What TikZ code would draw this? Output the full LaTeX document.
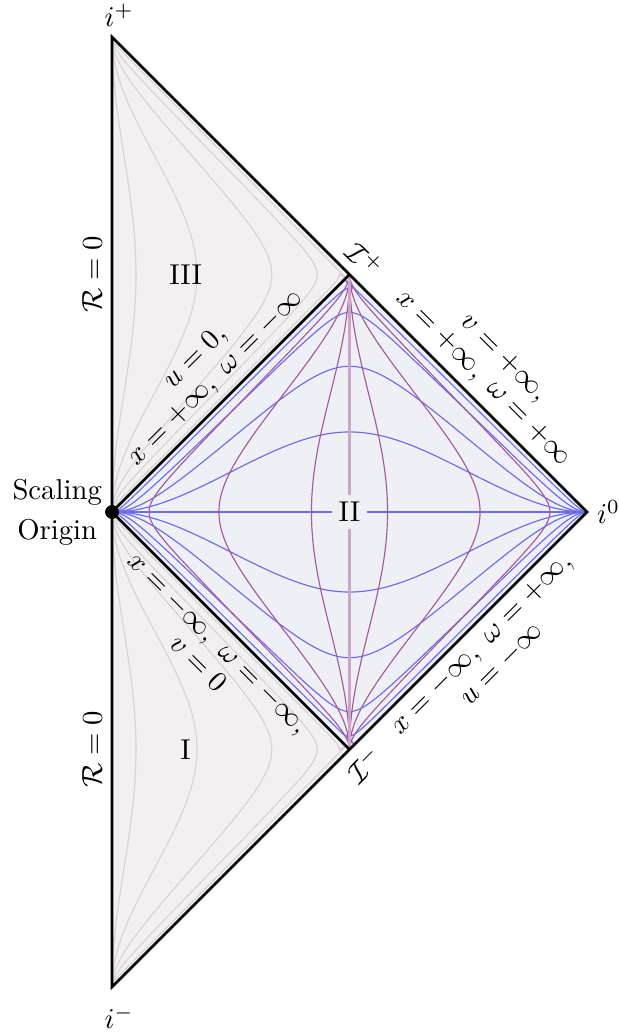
\documentclass[tikz,border=0pt]{standalone}
\usepackage{amsmath}

\definecolor{outerfill}{HTML}{F4F0F2}
\definecolor{innerfill}{HTML}{EFF0F6}
\definecolor{rgrey}{HTML}{D4D4D4}
\definecolor{tblue}{HTML}{6B6BEE}
\definecolor{xpurple}{HTML}{A25C9C}

\tikzstyle{boundary}=[line width=0.9pt]
\tikzstyle{rcurve}=[rgrey, line width=0.4pt]
\tikzstyle{tcurve}=[tblue, line width=0.4pt]
\tikzstyle{xcurve}=[xpurple, line width=0.4pt]
\tikzstyle{edgelabel}=[midway, sloped, align=center, inner sep=3pt]

\begin{document}
\begin{tikzpicture}[x=2.908cm, y=2.908cm,
  declare function={nb(\p,\q)=atan(tan(\p)-2*\q);}]
\useasboundingbox (-0.4716,-2.1895) rectangle (2.1305,2.1558);
%vertices
\coordinate (O) at (0,0);
\coordinate (ip) at (0,2);
\coordinate (im) at (0,-2);
\coordinate (izero) at (2,0);
\coordinate (Ip) at (1,1);
\coordinate (Im) at (1,-1);
%fills
\fill[outerfill] (O) -- (ip) -- (Ip) -- cycle;
\fill[outerfill] (O) -- (im) -- (Im) -- cycle;
\fill[innerfill] (O) -- (Ip) -- (izero) -- (Im) -- cycle;
%region III: r = const
\begin{scope}
\clip (O) -- (ip) -- (Ip) -- cycle;
\foreach \r in {0.16,0.63,1.77,4.6,15}
    \draw[rcurve] plot[domain=-89.4:89.4, samples=181, smooth, variable=\a]
        ({(\a-nb(\a,\r))/180}, {1+(\a+nb(\a,\r))/180});
\end{scope}
%region I: r = const
\begin{scope}
\clip (O) -- (im) -- (Im) -- cycle;
\foreach \r in {0.16,0.63,1.77,4.6,15}
    \draw[rcurve] plot[domain=-89.4:89.4, samples=181, smooth, variable=\a]
        ({(\a-nb(\a,\r))/180}, {-1-(\a+nb(\a,\r))/180});
\end{scope}
%region II
\begin{scope}
\clip (O) -- (Ip) -- (izero) -- (Im) -- cycle;
%t = const
\foreach \t in {-11,-3.9,-1.44,-0.585,0.585,1.44,3.9,11}
    \draw[tcurve] plot[domain=-89.6:89.6, samples=181, smooth, variable=\a]
        ({1+(\a+nb(\a,\t))/180}, {(\a-nb(\a,\t))/180});
\draw[tcurve, line width=0.6pt] (O) -- (izero);
%x = const
\foreach \x in {-4,-1.17,-0.257,0.257,1.17,4}
    \draw[xcurve] plot[domain=-89.6:89.6, samples=181, smooth, variable=\a]
        ({1+(\a-nb(\a,\x))/180}, {(\a+nb(\a,\x))/180});
\draw[xpurple!55, line width=1pt] (Ip) -- (Im);
\end{scope}
%boundaries
\draw[boundary] (ip) -- (izero) -- (im) -- cycle;
\draw[boundary] (Ip) -- (O) -- (Im);
\node[circle, fill, inner sep=0pt, minimum size=4.8pt] (dot) at (O) {};
%labels
\node (lip) [above, xshift=2.5pt] at (ip) {$i^+$};
\node (lim) [below, xshift=2.5pt, yshift=-3pt] at (im) {$i^-$};
\node (lizero) [right] at (izero) {$i^0$};
\node (lorigin) [left, align=center] at (O) {Scaling\\[2pt]Origin};
\node (regIII) at (0.31,1) {III};
\node (regI) at (0.31,-1) {I};
\node (regII) [fill=innerfill, inner sep=2.5pt] at (1,0) {II};
\path (O) -- (ip) node (lRup) [midway, above, sloped] {$\mathcal{R}=0$};
\path (im) -- (O) node (lRdown) [midway, above, sloped] {$\mathcal{R}=0$};
\path (Ip) -- (izero) node (lscrip) [pos=0, above, sloped] {$\mathcal{I}^+$};
\path (Im) -- (izero) node (lscrim) [pos=0, below, sloped] {$\mathcal{I}^-$};
\path (O) -- (Ip) node (lOIp) [edgelabel, above] {$u=0,$\\[-2pt]$x=+\infty,\ \omega=-\infty$};
\path (O) -- (Im) node (lOIm) [edgelabel, below] {$x=-\infty,\ \omega=-\infty,$\\[-2pt]$v=0$};
\path (Ip) -- (izero) node (lIpi) [edgelabel, above] {$v=+\infty,$\\[-2pt]$x=+\infty,\ \omega=+\infty$};
\path (Im) -- (izero) node (lImi) [edgelabel, below] {$x=-\infty,\ \omega=+\infty,$\\[-2pt]$u=-\infty$};
\end{tikzpicture}
\end{document}
